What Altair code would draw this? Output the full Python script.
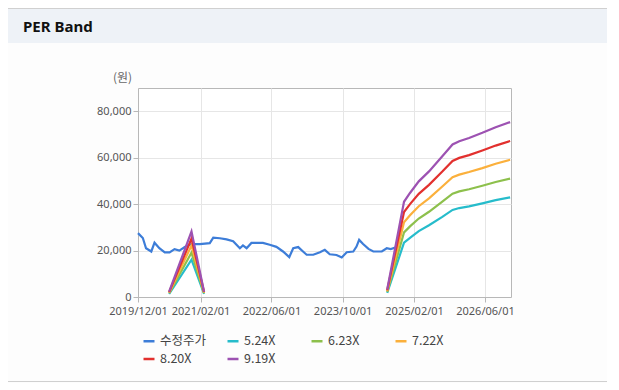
import altair as alt
import pandas as pd

SERIES = ["수정주가", "5.24X", "6.23X", "7.22X", "8.20X", "9.19X"]
COLORS = ["#3d7dd8", "#26bccb", "#8dc04c", "#fbb03c", "#e2302e", "#9d52b2"]

PRICE_DATES = [
    "2019-12-01", "2020-01-03", "2020-01-25", "2020-03-01", "2020-03-23", "2020-04-25",
    "2020-06-01", "2020-07-04", "2020-08-07", "2020-09-09", "2020-10-16", "2020-12-01",
    "2021-01-27", "2021-04-05", "2021-04-29", "2021-06-13", "2021-07-29", "2021-09-12",
    "2021-10-28", "2021-11-18", "2021-12-13", "2022-01-15", "2022-04-04", "2022-05-20",
    "2022-07-05", "2022-08-19", "2022-10-01", "2022-10-28", "2022-12-01", "2023-01-03",
    "2023-01-28", "2023-03-14", "2023-04-29", "2023-06-01", "2023-07-05", "2023-08-20",
    "2023-09-25", "2023-10-29", "2023-12-13", "2024-01-04", "2024-01-22", "2024-02-18",
    "2024-03-26", "2024-04-28", "2024-06-25", "2024-07-29", "2024-08-25", "2024-10-07",
]
PRICE_VALUES = [
    27500, 25400, 21000, 19600, 23400, 21000,
    19200, 19200, 20600, 20000, 21500, 22800,
    22800, 23200, 25600, 25300, 24800, 24000,
    21000, 22200, 21000, 23300, 23300, 22500,
    21600, 19600, 17200, 21000, 21500, 19600,
    18200, 18200, 19300, 20300, 18400, 18100,
    17000, 19300, 19600, 21700, 24600, 22800,
    20700, 19600, 19600, 21000, 20600, 21500,
]

BAND_DATES_1 = ["2020-07-01", "2020-12-01", "2021-02-25"]
BAND_DATES_2 = [
    "2024-08-01", "2024-11-24", "2025-01-04", "2025-03-05", "2025-05-14", "2025-08-13",
    "2025-10-22", "2025-12-07", "2026-02-12", "2026-05-14", "2026-08-13", "2026-11-20",
]

PER_524_1 = [1300, 16100, 1300]
PER_623_1 = [1600, 19100, 1600]
PER_722_1 = [1800, 22200, 1800]
PER_820_1 = [2100, 25200, 2100]
PER_919_1 = [2300, 28200, 2300]

PER_524_2 = [1800, 23400, 25500, 28400, 30900, 34500, 37500, 38300, 39000, 40300, 41700, 42900]
PER_623_2 = [2200, 27800, 30400, 33800, 36700, 41100, 44500, 45500, 46400, 47900, 49500, 51000]
PER_722_2 = [2500, 32200, 35200, 39100, 42500, 47600, 51600, 52700, 53800, 55500, 57400, 59100]
PER_820_2 = [2900, 36600, 40000, 44400, 48300, 54000, 58600, 59900, 61100, 63100, 65200, 67200]
PER_919_2 = [3200, 41000, 44800, 49800, 54100, 60600, 65700, 67100, 68500, 70700, 73100, 75300]

Y_TICKS = [0, 20000, 40000, 60000, 80000]
X_TICKS = [(2019, 12), (2021, 2), (2022, 6), (2023, 10), (2025, 2), (2026, 6)]

rows = []
for d, v in zip(PRICE_DATES, PRICE_VALUES):
    rows.append({"date": d, "value": v, "series": SERIES[0], "seg": "a"})
band_1 = [PER_524_1, PER_623_1, PER_722_1, PER_820_1, PER_919_1]
band_2 = [PER_524_2, PER_623_2, PER_722_2, PER_820_2, PER_919_2]
for name, s1, s2 in zip(SERIES[1:], band_1, band_2):
    for d, v in zip(BAND_DATES_1, s1):
        rows.append({"date": d, "value": v, "series": name, "seg": "a"})
    for d, v in zip(BAND_DATES_2, s2):
        rows.append({"date": d, "value": v, "series": name, "seg": "b"})
df = pd.DataFrame(rows)

AXIS_FONT = "Noto Sans"
GRID = "#e6e6e6"
LINE_GRAY = "#b8b8b8"

x_enc = alt.X(
    "date:T",
    scale=alt.Scale(
        type="utc",
        domain=[alt.DateTime(year=2019, month=12, date=1, utc=True),
                alt.DateTime(year=2026, month=11, date=26, utc=True)],
    ),
    axis=alt.Axis(
        title=None,
        values=[alt.DateTime(year=y, month=m, date=1, utc=True) for y, m in X_TICKS],
        format="%Y/%m/%d",
        labelFont=AXIS_FONT, labelFontSize=11, labelColor="#555",
        labelPadding=3, tickSize=5, tickColor=LINE_GRAY, domainColor=LINE_GRAY,
        gridColor=GRID, labelFlush=False, labelOverlap=False,
    ),
)
y_enc = alt.Y(
    "value:Q",
    scale=alt.Scale(domain=[0, 90000], nice=False),
    axis=alt.Axis(
        title="(원)", titleAngle=0, titleX=-16, titleY=-11,
        titleAlign="center", titleBaseline="middle",
        titleFont="Noto Sans CJK KR", titleFontSize=12, titleFontWeight="normal",
        titleColor="#666",
        values=Y_TICKS, labelExpr="format(datum.value, ',.0f')",
        labelFont=AXIS_FONT, labelFontSize=11, labelColor="#555",
        labelPadding=2, tickSize=5, tickColor=LINE_GRAY, domainColor=LINE_GRAY,
        gridColor=GRID,
    ),
)
color_enc = alt.Color(
    "series:N",
    scale=alt.Scale(domain=SERIES, range=COLORS),
    legend=alt.Legend(
        title=None, orient="none", legendX=4, legendY=246,
        direction="horizontal", columns=4, gridAlign="all",
        symbolType="stroke", symbolSize=121, symbolStrokeWidth=2.5,
        labelFont="Noto Sans CJK KR", labelFontSize=12.5, labelColor="#444",
        columnPadding=15, rowPadding=4, labelOffset=4,
    ),
)

deco = pd.DataFrame({"k": [0]})
header = alt.Chart(deco).mark_rect(color="#eef2f7").encode(
    x=alt.value(-130), x2=alt.value(469), y=alt.value(-79), y2=alt.value(-45)
)
top_rule = alt.Chart(deco).mark_rule(color="#d0d0d0", strokeWidth=1).encode(
    x=alt.value(-130), x2=alt.value(469), y=alt.value(-79.5)
)
bottom_rule = alt.Chart(deco).mark_rule(color="#d0d0d0", strokeWidth=1).encode(
    x=alt.value(-130), x2=alt.value(469), y=alt.value(293.5)
)
header_text = alt.Chart(deco).mark_text(
    text="PER Band", font="Noto Sans", fontSize=15, fontWeight="bold",
    color="#111", align="left", baseline="middle",
).encode(x=alt.value(-115), y=alt.value(-61))

layers = [header, top_rule, bottom_rule, header_text]
for s in SERIES:
    layers.append(
        alt.Chart(df[df["series"] == s]).mark_line(strokeWidth=2.2).encode(
            x=x_enc, y=y_enc, color=color_enc, detail="seg:N"
        )
    )

chart = alt.layer(*layers).properties(
    width=373, height=209,
    autosize=alt.AutoSizeParams(type="none"),
    padding={"left": 130, "top": 80, "right": 96, "bottom": 86},
    background="#fdfdfd",
).configure_view(stroke=LINE_GRAY, fill="white")

chart.save("out.html", embed_options={"renderer": "svg", "actions": False})
